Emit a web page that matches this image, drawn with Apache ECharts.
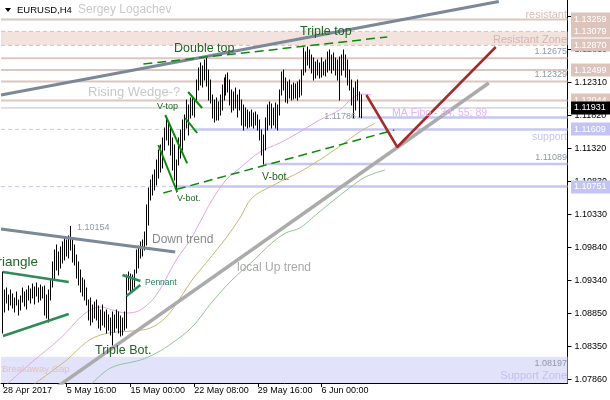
<!DOCTYPE html>
<html><head><meta charset="utf-8">
<script src="https://cdn.jsdelivr.net/npm/echarts@6/dist/echarts.min.js"></script>
<style>html,body{margin:0;padding:0;background:#fff}#c{width:610px;height:400px}</style>
</head><body><div id="c"></div>
<script>
// ---------------- DATA ----------------
const xLabelIdx  = [0, 32, 64, 96, 128, 160];
const xLabelText = ['28 Apr 2017', '5 May 16:00', '15 May 00:00', '22 May 08:00', '29 May 16:00', '6 Jun 00:00'];
const yTicks = [1.07860, 1.08350, 1.08850, 1.09340, 1.09840, 1.10330, 1.10830, 1.11320, 1.11820, 1.12310, 1.12810, 1.13300];
const yMin = 1.07805, yMax = 1.13550;

// H4 bars (index = bar number)
const highs = [
1.09470,1.09200,1.09230,1.09125,1.09200,1.09140,1.09080,1.09170,1.09050,1.09110,
1.09230,1.09170,1.09200,1.09260,1.09215,1.09290,1.09245,1.09305,1.09230,1.09275,
1.09245,1.09260,1.09125,1.09200,1.09350,1.09620,1.09800,1.09875,1.09770,1.09845,
1.09920,1.09980,1.09950,1.10010,1.10154,1.09980,1.09875,1.09725,1.09620,1.09500,
1.09380,1.09350,1.09230,1.09050,1.09080,1.08975,1.09020,1.09050,1.08960,1.08900,
1.08975,1.08870,1.08900,1.08825,1.08780,1.08870,1.08825,1.08900,1.08870,1.08810,
1.08780,1.08870,1.09425,1.09470,1.09440,1.09425,1.09500,1.09800,1.09860,1.09920,
1.09950,1.10070,1.10475,1.10730,1.10850,1.10925,1.11000,1.11150,1.11300,1.11375,
1.11480,1.11630,1.11795,1.11720,1.11630,1.11480,1.11375,1.11150,1.11480,1.11600,
1.11750,1.11825,1.12050,1.11975,1.12080,1.12095,1.12050,1.12350,1.12530,1.12605,
1.12560,1.12650,1.12675,1.12500,1.12350,1.12125,1.12050,1.12080,1.12020,1.12125,
1.12275,1.12380,1.12425,1.12455,1.12350,1.12200,1.12170,1.12230,1.12125,1.12200,
1.12050,1.11975,1.11930,1.11900,1.11870,1.11900,1.11855,1.11870,1.11825,1.11750,
1.11600,1.11525,1.11780,1.11975,1.12020,1.11990,1.11930,1.12005,1.11975,1.12200,
1.12470,1.12500,1.12380,1.12320,1.12350,1.12275,1.12305,1.12290,1.12320,1.12350,
1.12500,1.12830,1.12770,1.12845,1.12800,1.12725,1.12680,1.12620,1.12650,1.12605,
1.12680,1.12620,1.12650,1.12770,1.12800,1.12725,1.12755,1.12680,1.12650,1.12695,
1.12725,1.12800,1.12725,1.12650,1.12500,1.12350,1.12230,1.12320,1.12350,1.12170,
1.12125];
const lows = [
1.08555,1.08870,1.09005,1.08900,1.08975,1.08930,1.08870,1.08975,1.08825,1.08900,
1.09020,1.08960,1.08915,1.09050,1.09005,1.09080,1.08990,1.09110,1.09020,1.09050,
1.09080,1.08825,1.08780,1.08720,1.09050,1.09245,1.09350,1.09500,1.09425,1.09530,
1.09605,1.09650,1.09710,1.09680,1.09800,1.09620,1.09575,1.09380,1.09275,1.09170,
1.09110,1.09050,1.08975,1.08750,1.08675,1.08720,1.08780,1.08750,1.08630,1.08600,
1.08675,1.08645,1.08555,1.08600,1.08525,1.08375,1.08570,1.08630,1.08555,1.08510,
1.08525,1.08600,1.08630,1.09200,1.09155,1.09200,1.09245,1.09455,1.09530,1.09680,
1.09710,1.09800,1.09875,1.10175,1.10550,1.10625,1.10700,1.10775,1.10880,1.10970,
1.11030,1.11300,1.11450,1.11375,1.11225,1.11000,1.10850,1.10670,1.11075,1.11180,
1.11300,1.11450,1.11630,1.11525,1.11780,1.11825,1.11795,1.12050,1.12200,1.12275,
1.12245,1.12350,1.12260,1.12050,1.12005,1.11780,1.11720,1.11750,1.11750,1.11825,
1.11900,1.12050,1.12125,1.12170,1.11975,1.11870,1.11900,1.11930,1.11795,1.11900,
1.11675,1.11600,1.11660,1.11630,1.11645,1.11660,1.11630,1.11675,1.11600,1.11450,
1.11225,1.11089,1.11300,1.11600,1.11675,1.11630,1.11675,1.11630,1.11600,1.11825,
1.12125,1.12200,1.12020,1.12005,1.12080,1.12050,1.12065,1.12080,1.12050,1.12095,
1.12125,1.12425,1.12470,1.12575,1.12530,1.12455,1.12350,1.12380,1.12425,1.12380,
1.12395,1.12425,1.12410,1.12470,1.12500,1.12455,1.12500,1.12425,1.12350,1.12050,
1.12425,1.12500,1.12395,1.12275,1.12200,1.11975,1.11780,1.11900,1.12050,1.11795,
1.11786];

// Moving averages: [bar index, price]
const maFibo34 = [[0,1.0773],[14,1.08105],[29,1.0848],[39,1.08795],[44,1.0890],[49,1.08945],[55,1.0890],[62,1.08855],[69,1.0890],[77,1.09125],[87,1.0965],[94,1.0995],[99,1.1022],[105,1.1055],[112,1.1085],[119,1.1103],[129,1.1127],[139,1.11405],[149,1.1157],[159,1.1175],[169,1.1190],[175,1.12065],[180,1.1214],[185,1.12125]];
const maFibo55 = [[15,1.07775],[24,1.0797],[32,1.0815],[42,1.0842],[49,1.08525],[57,1.0857],[65,1.08585],[74,1.0863],[82,1.08795],[89,1.0908],[95,1.0935],[104,1.0968],[112,1.0998],[119,1.1028],[125,1.1058],[135,1.1076],[144,1.10895],[149,1.1097],[159,1.1115],[170,1.11375],[179,1.1157],[187,1.11705]];
const maFibo89 = [[44,1.07775],[54,1.0803],[69,1.0815],[77,1.08255],[85,1.08405],[95,1.08645],[105,1.0902],[115,1.0935],[125,1.0962],[135,1.09905],[142,1.10055],[149,1.1013],[157,1.10325],[165,1.1052],[174,1.1073],[182,1.10895],[192,1.1100]];

// Levels
const resistLines = [1.13259, 1.12675, 1.12499, 1.12329, 1.12044];
const resistZone  = [1.12870, 1.13079];
const currentPrice = 1.11931;
const supportLines = [[1.11786, 178], [1.11609, 96.5], [1.11089, 131.5], [1.10751, 86.5]]; // [level, bar where solid part starts]
const supportDashed = [1.11609, 1.10751];
const supportZoneTop = 1.08197;
const rosyBoxes = [1.13259, 1.13079, 1.12870, 1.12499, 1.12044];
const lavBoxes = [1.11609, 1.10751];
const levelNotes = [1.12675, 1.12329, 1.11089];

// Drawn objects: [bar index, price]
const wedgeTop  = [[-1, 1.12125], [249, 1.13528]];
const downTrend = [[-1, 1.10115], [86.5, 1.09770]];
const upTrend   = [[25, 1.07700], [244, 1.12305]];
const forecast  = [[182.5, 1.12125], [198, 1.11345], [247.5, 1.12845]];
const topDashed = [[70.5, 1.12590], [193, 1.12995]];
const botDashed = [[80.5, 1.10655], [196.5, 1.11600]];
const triUpper  = [[0, 1.09470], [33, 1.09320]];
const triLower  = [[0, 1.08510], [33, 1.08840]];
const penUpper  = [[60, 1.09425], [69, 1.09335]];
const penLower  = [[62, 1.09110], [69, 1.09275]];
const vLines = [
  [[78, 1.11375], [87.5, 1.10670]],
  [[81.5, 1.11825], [92.5, 1.11100]],
  [[93, 1.12170], [100, 1.11930]],
  [[91.5, 1.11780], [97.5, 1.11555]]
];

// ---------------- CHART ----------------
const FONT = 'Liberation Sans';
const XMAX = 283.5;
const chart = echarts.init(document.getElementById('c'));

function seg(points, color, width, type, z, dash) {
  return { type: 'line', data: points, symbol: 'none', silent: true, z: z,
    lineStyle: { color: color, width: width, type: dash || type || 'solid' } };
}

const series = [];
series.push({
  type: 'line', data: [[-1, resistZone[0]]], symbol: 'none', z: 1, silent: true,
  markArea: { silent: true, data: [
    [{ yAxis: resistZone[0], itemStyle: { color: '#f3e3df' } }, { yAxis: resistZone[1] }],
    [{ yAxis: supportZoneTop, itemStyle: { color: '#e2e2fb' } }, { yAxis: yMin }]
  ] }
});
resistZone.forEach(l => series.push(seg([[-1, l], [XMAX, l]], '#d9bdb5', 1, null, 2, [4, 3])));
resistLines.forEach(l => series.push(seg([[-1, l], [XMAX, l]], '#ddc6bf', 2, 'solid', 2)));
series.push(seg([[-1, currentPrice], [XMAX, currentPrice]], '#c4c4c4', 1, 'solid', 2));
supportLines.forEach(([l, s]) => series.push(seg([[s, l], [XMAX, l]], '#c6c6f5', 2.5, 'solid', 2)));
supportDashed.forEach(l => {
  const s = supportLines.find(d => d[0] === l)[1];
  series.push(seg([[-1, l], [s, l]], '#c6c6f5', 1, null, 2, [4, 3]));
});
[[maFibo34, '#e2a4e6'], [maFibo55, '#c9b773'], [maFibo89, '#92c492']].forEach(([d, c]) =>
  series.push({ type: 'line', data: d, smooth: 0.35, symbol: 'none', silent: true, z: 3,
    lineStyle: { color: c, width: 1 } }));
series.push({
  type: 'custom', z: 4, silent: true,
  data: highs.map((h, i) => [i, lows[i], h]),
  encode: { x: 0, y: [1, 2] },
  renderItem: (params, api) => {
    const p1 = api.coord([api.value(0), api.value(1)]);
    const p2 = api.coord([api.value(0), api.value(2)]);
    const x = Math.floor(p1[0]) + 0.5;
    return { type: 'line', shape: { x1: x, y1: p1[1] + 0.5, x2: x, y2: p2[1] - 0.5 },
      style: { stroke: '#000', lineWidth: 1 } };
  }
});
series.push(seg(upTrend, '#ababab', 3.5, 'solid', 5));
series.push(seg(wedgeTop, '#7b8898', 3, 'solid', 5));
series.push(seg(downTrend, '#7b8898', 3, 'solid', 5));
series.push(seg(forecast, '#a52a2a', 2.5, 'solid', 6));
series.push(seg(topDashed, '#0a8a0a', 1.5, null, 5, [9, 5]));
series.push(seg(botDashed, '#0a8a0a', 1.5, null, 5, [9, 5]));
[triUpper, triLower, penUpper, penLower].forEach(d => series.push(seg(d, '#2e8b57', 2.5, 'solid', 5)));
vLines.forEach(d => series.push(seg(d, '#0a8a0a', 2, 'solid', 5)));

chart.setOption({
  animation: false,
  backgroundColor: '#fff',
  grid: { left: 0, right: 41, top: 0, bottom: 17 },
  xAxis: {
    type: 'value', min: -1, max: XMAX,
    axisLine: { show: true, onZero: false, lineStyle: { color: '#000', width: 1 } },
    axisTick: { show: true, customValues: xLabelIdx, length: 4, lineStyle: { color: '#000' } },
    axisLabel: { customValues: xLabelIdx, formatter: v => xLabelText[xLabelIdx.indexOf(Math.round(v))] || '',
      align: 'left', margin: 3, fontFamily: FONT, fontSize: 9, color: '#000' },
    splitLine: { show: false }
  },
  yAxis: {
    type: 'value', position: 'right', min: yMin, max: yMax,
    axisLine: { show: true, onZero: false, lineStyle: { color: '#000', width: 1 } },
    axisTick: { show: true, customValues: yTicks, length: 4, lineStyle: { color: '#000' } },
    axisLabel: { customValues: yTicks, formatter: v => v.toFixed(5), margin: 7,
      fontFamily: FONT, fontSize: 9, color: '#000' },
    splitLine: { show: false }
  },
  series: series
});

// ---------------- ANNOTATIONS ----------------
const py = v => chart.convertToPixel({ gridIndex: 0 }, [0, v])[1];
const G = '#1e6420';
const g = [];
function txt(t, x, y, size, color, align, va) {
  g.push({ type: 'text', x: x, y: y, z: 100, silent: true,
    style: { text: t, fill: color, font: size + 'px "' + FONT + '"', align: align || 'left', verticalAlign: va || 'middle' } });
}
g.push({ type: 'polygon', z: 100, shape: { points: [[5, 8], [11, 8], [8, 12]] }, style: { fill: '#000' } });
txt('EURUSD,H4', 17, 10, 9.5, '#000');
txt('Sergey Logachev', 78, 10, 12, '#c8c8c8');
txt('Double top', 174, 49, 12.5, G);
txt('Triple top', 300, 32, 12.5, G);
txt('Rising Wedge-?', 88, 92, 13, '#c8c8c8');
txt('V-top', 157, 107, 9, G);
txt('V-bot.', 177, 199, 9, G);
txt('V-bot.', 262, 177, 10.5, G);
txt('Triangle', 38, 262, 13.5, G, 'right');
txt('Pennant', 145, 283, 8.5, '#1f7a55');
txt('Triple Bot.', 95, 351, 12.5, G);
txt('Down trend', 152, 240, 12, '#8a8a8a');
txt('local Up trend', 237, 268, 12, '#a8a8a8');
txt('1.10154', 77, 228, 9, '#8e99a8');
txt('MA Fibo - 34; 55; 89', 392, 113, 10.5, '#e4b4ee');
txt('resistant', 567, 15, 11, '#d6bdb5', 'right');
txt('Resistant Zone', 567, 40, 11, '#d2b6ae', 'right');
txt('support', 567, 137, 10.5, '#c4c4f0', 'right');
txt('Support Zone', 567, 376, 11, '#c0c0f0', 'right');
txt('Breakaway Gap', 2, 369, 9.5, '#e0c2c2');
txt(supportLines[0][0].toFixed(5), 356, py(supportLines[0][0]) - 1, 9, '#8e99a8', 'right');
levelNotes.forEach(l => txt(l.toFixed(5), 567, py(l) - 2, 9, '#8e99a8', 'right', 'bottom'));
txt(supportZoneTop.toFixed(5), 567, py(supportZoneTop) + 2, 9, '#8e99a8', 'right', 'top');
function box(v, bg) {
  const y = py(v);
  g.push({ type: 'rect', z: 100, shape: { x: 571, y: Math.round(y) - 6.5, width: 39, height: 13 }, style: { fill: bg } });
  txt(v.toFixed(5), 574, y, 9, '#fff');
}
rosyBoxes.forEach(v => box(v, '#dcc4bc'));
lavBoxes.forEach(v => box(v, '#c4c4f4'));
box(currentPrice, '#000');

chart.setOption({ graphic: { elements: g } });
</script>
</body></html>
